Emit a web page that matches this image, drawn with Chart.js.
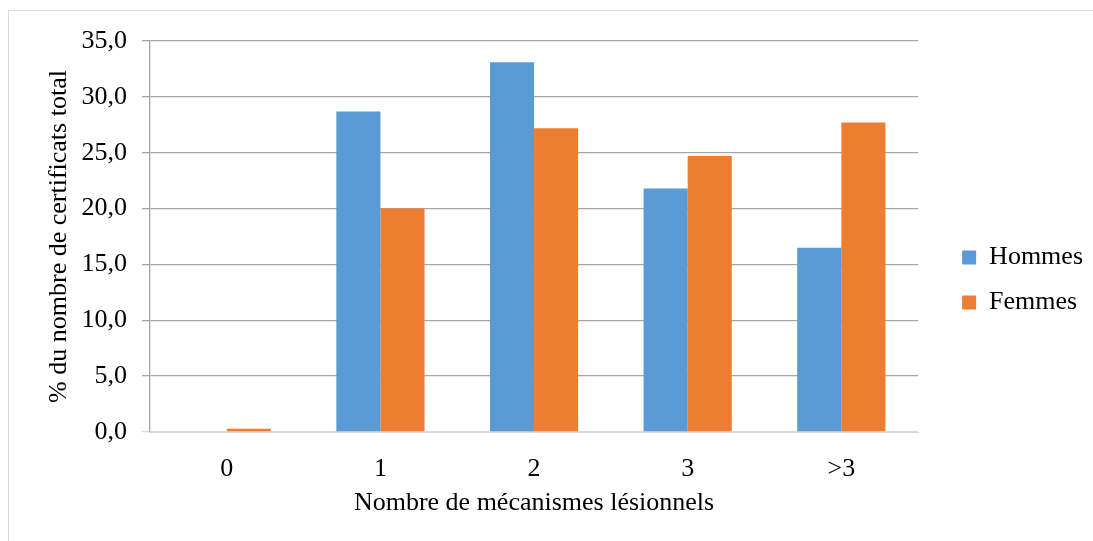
<!DOCTYPE html>
<html>
<head>
<meta charset="utf-8">
<script src="https://cdn.jsdelivr.net/npm/chart.js@4.4.1/dist/chart.umd.min.js"></script>
<style>
    html, body { margin: 0; padding: 0; background: #fff; overflow: hidden; }
    #wrap { position: relative; width: 1093px; height: 541px; overflow: hidden; }
    #frame {
        position: absolute; left: 8px; top: 10px; right: -5px; bottom: -5px;
        border-left: 1px solid #d9d9d9; border-top: 1px solid #d9d9d9;
    }
    canvas { position: absolute; left: 0; top: 0; }
</style>
</head>
<body>
<div id="wrap">
    <div id="frame"></div>
    <canvas id="chart" width="1093" height="541"></canvas>
</div>
<script>
// Categories and series (% of certificates)
const categories = ['0', '1', '2', '3', '>3'];
const hommes = [0.0, 28.7, 33.1, 21.8, 16.5];
const femmes = [0.3, 20.0, 27.2, 24.7, 27.7];
const yTicks = [0, 5, 10, 15, 20, 25, 30, 35];

const serif = '"Liberation Serif", "Times New Roman", serif';
const textColor = '#000000';
const fontSize = 26;

// nudges the legend block away from the plot and up a little
const legendShift = {
    id: 'legendShift',
    afterLayout(chart) {
        const lg = chart.legend;
        if (!lg) return;
        lg.left += 25; lg.right += 25;
        lg.top -= 11; lg.bottom -= 11;
    }
};

const ctx = document.getElementById('chart').getContext('2d');
new Chart(ctx, {
    type: 'bar',
    data: {
        labels: categories,
        datasets: [
            {
                label: 'Hommes',
                data: hommes,
                backgroundColor: '#5b9bd5',
                categoryPercentage: 0.574,
                barPercentage: 1
            },
            {
                label: 'Femmes',
                data: femmes,
                backgroundColor: '#ed7d31',
                categoryPercentage: 0.574,
                barPercentage: 1
            }
        ]
    },
    plugins: [legendShift],
    options: {
        responsive: false,
        animation: false,
        devicePixelRatio: 1,
        layout: {
            padding: { left: 42, top: 41, right: 25, bottom: 0 }
        },
        plugins: {
            tooltip: { enabled: false },
            legend: {
                position: 'right',
                labels: {
                    color: textColor,
                    font: { family: serif, size: fontSize },
                    boxWidth: 14,
                    boxHeight: 14,
                    padding: 19
                }
            }
        },
        scales: {
            x: {
                afterFit: scale => { scale.height = 109; },
                grid: { display: false },
                border: { display: true, color: '#d9d9d9', width: 1 },
                ticks: {
                    color: textColor,
                    font: { family: serif, size: fontSize },
                    padding: 14
                },
                title: {
                    display: true,
                    text: 'Nombre de mécanismes lésionnels',
                    color: textColor,
                    font: { family: serif, size: fontSize },
                    padding: { top: 4, bottom: 22 }
                }
            },
            y: {
                min: 0,
                max: 35,
                afterFit: scale => { scale.width = 108; },
                afterBuildTicks: scale => {
                    scale.ticks = yTicks.map(v => ({ value: v }));
                },
                grid: {
                    color: c => (c.tick && c.tick.value === 0) ? '#d9d9d9' : '#a6a6a6',
                    lineWidth: 1.3,
                    tickLength: 8
                },
                border: { display: true, color: '#a6a6a6', width: 1.3 },
                ticks: {
                    color: textColor,
                    font: { family: serif, size: fontSize },
                    padding: 15,
                    callback: v => v.toFixed(1).replace('.', ',')
                },
                title: {
                    display: true,
                    text: '% du nombre de certificats total',
                    color: textColor,
                    font: { family: serif, size: fontSize },
                    padding: { top: 2, bottom: 4 }
                }
            }
        }
    }
});
</script>
</body>
</html>
